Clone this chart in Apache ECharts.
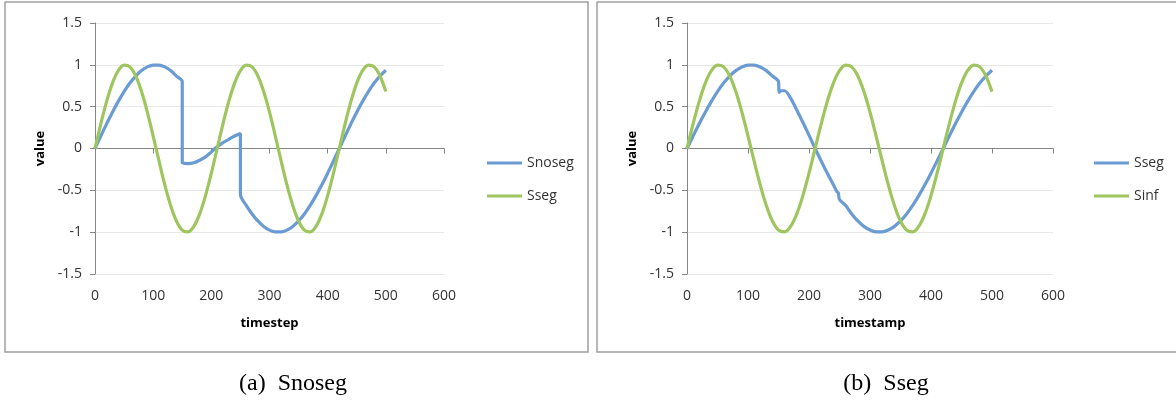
<!DOCTYPE html>
<html>
<head>
<meta charset="utf-8">
<script src="https://cdn.jsdelivr.net/npm/echarts@6/dist/echarts.min.js"></script>
<style>
  html, body { margin: 0; padding: 0; background: #fff; }
  #wrap { position: relative; width: 1176px; height: 403px; overflow: hidden; }
  #left { position: absolute; left: 0; top: 0; width: 590px; height: 403px; }
  #right { position: absolute; left: 590px; top: 0; width: 586px; height: 403px; }
</style>
</head>
<body>
<div id="wrap"><div id="left"></div><div id="right"></div></div>
<script>
// values, [timestep, value]
var snosegLeft = [
  [0,0],[10,0.149],[20,0.295],[30,0.434],[40,0.563],[50,0.68],[60,0.782],[70,0.866],[80,0.931],[90,0.975],
  [100,0.997],[110,0.997],[120,0.975],[130,0.931],[140,0.866],[150,0.8],
  [150,-0.17],[160,-0.18],[170,-0.17],[180,-0.14],[190,-0.1],[200,-0.04],[210,0.02],[220,0.07],[230,0.11],[240,0.15],[250,0.18],
  [250,-0.55],[260,-0.68],[270,-0.782],[280,-0.866],[290,-0.931],[300,-0.975],[310,-0.997],[320,-0.997],[330,-0.975],
  [340,-0.931],[350,-0.866],[360,-0.782],[370,-0.68],[380,-0.563],[390,-0.434],[400,-0.295],[410,-0.149],[420,0],
  [430,0.149],[440,0.295],[450,0.434],[460,0.563],[470,0.68],[480,0.782],[490,0.866],[500,0.935]
];
var ssegLeft = [
  [0,0],[10,0.295],[20,0.563],[30,0.782],[40,0.931],[50,0.997],[60,0.975],[70,0.866],[80,0.68],[90,0.434],
  [100,0.149],[110,-0.149],[120,-0.434],[130,-0.68],[140,-0.866],[150,-0.975],[160,-0.997],[170,-0.931],[180,-0.782],[190,-0.563],
  [200,-0.295],[210,0],[220,0.295],[230,0.563],[240,0.782],[250,0.931],[260,0.997],[270,0.975],[280,0.866],[290,0.68],
  [300,0.434],[310,0.149],[320,-0.149],[330,-0.434],[340,-0.68],[350,-0.866],[360,-0.975],[370,-0.997],[380,-0.931],[390,-0.782],
  [400,-0.563],[410,-0.295],[420,0],[430,0.295],[440,0.563],[450,0.782],[460,0.931],[470,0.997],[480,0.975],[490,0.866],[500,0.68]
];
var ssegRight = [
  [0,0],[10,0.149],[20,0.295],[30,0.434],[40,0.563],[50,0.68],[60,0.782],[70,0.866],[80,0.931],[90,0.975],
  [100,0.997],[110,0.997],[120,0.975],[130,0.931],[140,0.866],[150,0.8],
  [151,0.67],[154,0.69],[160,0.69],[170,0.6],[180,0.46],[190,0.31],[200,0.16],[210,0],[220,-0.149],[230,-0.295],
  [240,-0.434],[246,-0.52],[248,-0.53],[250,-0.61],[260,-0.68],[270,-0.782],[280,-0.866],[290,-0.931],[300,-0.975],
  [310,-0.997],[320,-0.997],[330,-0.975],[340,-0.931],[350,-0.866],[360,-0.782],[370,-0.68],[380,-0.563],[390,-0.434],
  [400,-0.295],[410,-0.149],[420,0],[430,0.149],[440,0.295],[450,0.434],[460,0.563],[470,0.68],[480,0.782],[490,0.866],[500,0.935]
];
var sinfRight = ssegLeft;
var namesLeft = ['Snoseg', 'Sseg'];
var namesRight = ['Sseg', 'Sinf'];
var xTitles = ['timestep', 'timestamp'];
var captions = ['(a)  Snoseg', '(b)  Sseg'];

var BLUE = '#6a9bd2';
var GREEN = '#9fc55e';
var txt = '#333333';
var font = 'Open Sans';

function build(el, cfg) {
  var chart = echarts.init(document.getElementById(el));
  var axisFont = { color: txt, fontSize: 14, fontFamily: font };
  var titleFont = { color: '#000', fontSize: 13, fontWeight: 'bold', fontFamily: font };
  var rng = { type: 'value', min: 0, max: 600, interval: 100 };
  chart.setOption({
    animation: false,
    grid: { left: cfg.left, top: 23, width: cfg.width, height: 251 },
    xAxis: [
      // line at zero with ticks
      Object.assign({}, rng, {
        axisLine: { onZero: true, lineStyle: { color: '#868686' } },
        axisTick: { show: true, length: 5, lineStyle: { color: '#868686' } },
        axisLabel: { show: false },
        splitLine: { show: false }
      }),
      // labels + title at the bottom
      Object.assign({}, rng, {
        position: 'bottom',
        axisLine: { show: false, onZero: false },
        axisTick: { show: false },
        splitLine: { show: false },
        axisLabel: Object.assign({ margin: 15 }, axisFont),
        name: cfg.xTitle, nameLocation: 'middle', nameGap: 43,
        nameTextStyle: titleFont
      })
    ],
    yAxis: {
      type: 'value', min: -1.5, max: 1.5, interval: 0.5,
      axisLine: { show: true, lineStyle: { color: '#868686' } },
      axisTick: { show: true, length: 5, lineStyle: { color: '#868686' } },
      axisLabel: Object.assign({ margin: 13 }, axisFont),
      splitLine: { lineStyle: { color: '#e8e8e8' } },
      name: 'value', nameLocation: 'middle', nameGap: 48,
      nameTextStyle: titleFont
    },
    legend: {
      data: cfg.names, orient: 'vertical', left: cfg.legendLeft, top: 151,
      icon: 'rect', itemWidth: 35, itemHeight: 3, itemGap: 19,
      textStyle: { color: txt, fontSize: 14, fontFamily: font }
    },
    graphic: [
      { type: 'rect', shape: { x: cfg.boxX, y: 2, width: cfg.boxW, height: 350 },
        style: { fill: 'none', stroke: '#a0a0a0', lineWidth: 1.5 }, z: -1 },
      { type: 'text', x: cfg.capX, y: 384,
        style: { text: cfg.caption, fill: '#000', font: '24px "Liberation Serif"', align: 'center', verticalAlign: 'middle' } }
    ],
    series: cfg.series.map(function (s) {
      return {
        name: s.name, type: 'line', data: s.data, xAxisIndex: 0,
        symbol: 'none', smooth: 0.3,
        lineStyle: { color: s.color, width: 3.2 }, itemStyle: { color: s.color }
      };
    })
  });
}

build('left', {
  left: 95, width: 349, legendLeft: 482, boxX: 5, boxW: 583, capX: 293,
  xTitle: xTitles[0], caption: captions[0], names: namesLeft,
  series: [
    { name: namesLeft[0], data: snosegLeft, color: BLUE },
    { name: namesLeft[1], data: ssegLeft, color: GREEN }
  ]
});
build('right', {
  left: 97, width: 366, legendLeft: 499, boxX: 7, boxW: 600, capX: 296,
  xTitle: xTitles[1], caption: captions[1], names: namesRight,
  series: [
    { name: namesRight[0], data: ssegRight, color: BLUE },
    { name: namesRight[1], data: sinfRight, color: GREEN }
  ]
});
</script>
</body>
</html>
